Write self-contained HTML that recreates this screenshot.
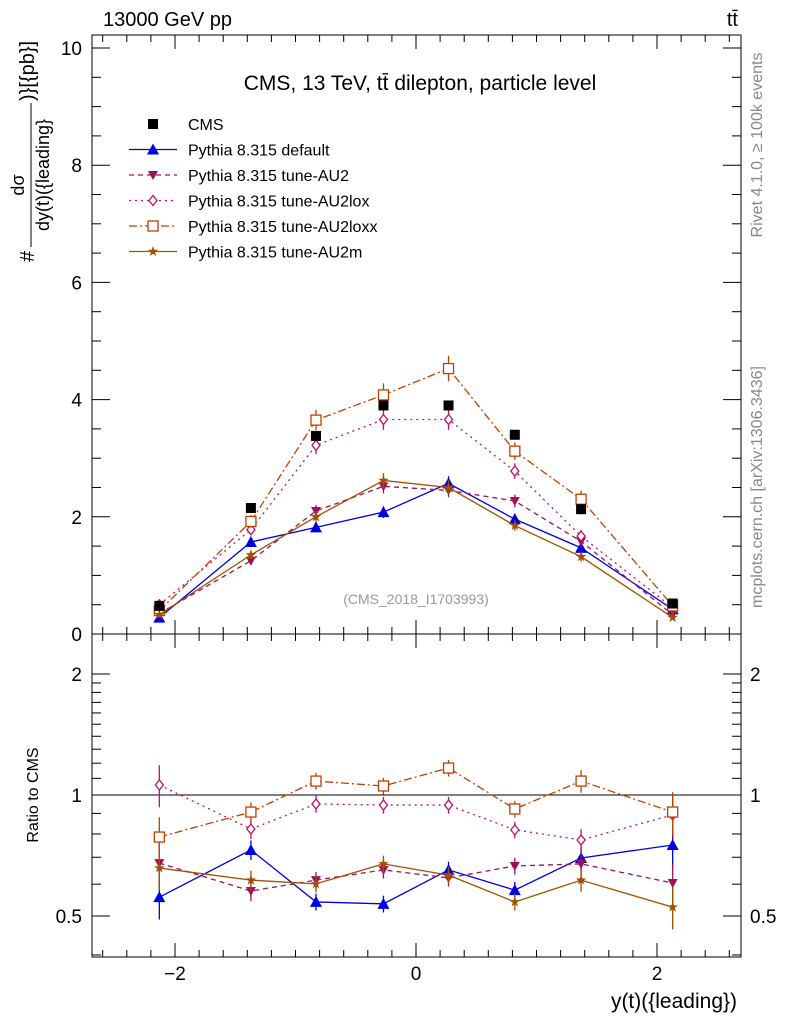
<!DOCTYPE html>
<html><head><meta charset="utf-8"><style>
body{margin:0;background:#fff;}
svg text{font-family:"Liberation Sans",sans-serif;}
</style></head><body>
<svg id="c" width="786" height="1024" xmlns="http://www.w3.org/2000/svg"></svg>
<script>
const xs=[-2.13,-1.37,-0.83,-0.27,0.27,0.82,1.37,2.13];
const cmsVals=[0.48,2.15,3.38,3.9,3.9,3.4,2.13,0.52];
const defVals=[0.28,1.57,1.82,2.08,2.57,1.96,1.47,0.42];
const au2Vals=[0.35,1.25,2.1,2.52,2.45,2.27,1.58,0.33];
const loxVals=[0.5,1.78,3.22,3.66,3.66,2.78,1.67,0.45];
const loxxVals=[0.4,1.92,3.65,4.08,4.53,3.12,2.3,0.48];
const au2mVals=[0.33,1.35,2.0,2.62,2.5,1.85,1.32,0.28];
const defRatio=[0.557,0.73,0.542,0.536,0.651,0.58,0.697,0.751];
const au2Ratio=[0.677,0.577,0.614,0.651,0.622,0.666,0.674,0.604];
const loxRatio=[1.059,0.823,0.95,0.944,0.944,0.819,0.773,0.892];
const loxxRatio=[0.786,0.907,1.083,1.053,1.167,0.923,1.083,0.907];
const au2mRatio=[0.658,0.614,0.601,0.674,0.632,0.542,0.614,0.526];
const relErr=[0.15,0.07,0.06,0.06,0.06,0.06,0.08,0.15];
const xTicks=[-2,0,2];
const yTicks=[0,2,4,6,8,10];
const rTicks=[0.5,1,2];

const svg=document.getElementById('c');
const NS='http://www.w3.org/2000/svg';
const L=92,R=741,T=35,MB=634,RB=957;
const X=v=>416+v*120.5;
const Y=v=>634-v*58.6;
const YR=v=>795-Math.log10(v)*402;
function el(t,a,p){const e=document.createElementNS(NS,t);for(const k in a)e.setAttribute(k,a[k]);(p||svg).appendChild(e);return e;}
function txt(s,a){const e=el('text',a);e.textContent=s;return e;}

let e;
e=el('rect',{x:L,y:T,width:R-L,height:MB-T,fill:'none',stroke:'#000','stroke-width':1});

e=el('rect',{x:L,y:MB,width:R-L,height:RB-MB,fill:'none',stroke:'#000','stroke-width':1});


for(let v=-2.6;v<=2.61;v+=0.2){const vv=Math.round(v*10)/10;const maj=Math.abs(vv%2)<1e-6;const len=maj?14:7;const px=X(vv);
 [[MB,-1],[T,1],[RB,-1],[MB,1]].forEach(([y0,d])=>el('line',{x1:px,x2:px,y1:y0,y2:y0+d*len,stroke:'#000'}));}
xTicks.forEach(v=>{e=txt(v<0?'\u2212'+(-v):''+v,{x:X(v),y:980,'font-size':19,'text-anchor':'middle'});});
for(let v=0;v<=10.01;v+=0.5){const maj=Math.abs(v%2)<1e-6;const len=maj?18:9;const py=Y(v);
 el('line',{x1:L,x2:L+len,y1:py,y2:py,stroke:'#000'});el('line',{x1:R,x2:R-len,y1:py,y2:py,stroke:'#000'});}
yTicks.forEach(v=>{e=txt(''+v,{x:82,y:Y(v)+7,'font-size':19,'text-anchor':'end'});});
const rminor=[0.4,0.5,0.6,0.7,0.8,0.9,1,2];
rminor.forEach(v=>{const maj=rTicks.includes(v);const len=maj?18:9;const py=YR(v);
 el('line',{x1:L,x2:L+len,y1:py,y2:py,stroke:'#000'});el('line',{x1:R,x2:R-len,y1:py,y2:py,stroke:'#000'});});
for(let v=1.1;v<2;v+=0.1){const py=YR(v);el('line',{x1:L,x2:L+9,y1:py,y2:py,stroke:'#000'});el('line',{x1:R,x2:R-9,y1:py,y2:py,stroke:'#000'});}
rTicks.forEach(v=>{e=txt(''+v,{x:82,y:YR(v)+7,'font-size':19,'text-anchor':'end'});
 e=txt(''+v,{x:750,y:YR(v)+7,'font-size':19});});
el('line',{x1:L,x2:R,y1:YR(1),y2:YR(1),stroke:'#000'});

function marker(kind,px,py,col,g){
 if(kind==='sq')el('rect',{x:px-5,y:py-5,width:10,height:10,fill:'#000'},g);
 else if(kind==='tri')el('polygon',{points:`${px},${py-6} ${px-6},${py+5} ${px+6},${py+5}`,fill:col},g);
 else if(kind==='itri')el('polygon',{points:`${px},${py+5} ${px-5},${py-4} ${px+5},${py-4}`,fill:col},g);
 else if(kind==='dia')el('polygon',{points:`${px},${py-5} ${px-4},${py} ${px},${py+5} ${px+4},${py}`,fill:'#fff',stroke:col,'stroke-width':1.3},g);
 else if(kind==='osq')el('rect',{x:px-5,y:py-5,width:10,height:10,fill:'#fff',stroke:col,'stroke-width':1.3},g);
 else if(kind==='star'){let p=[];for(let i=0;i<10;i++){const r=i%2?2.2:5.5,a=-Math.PI/2+i*Math.PI/5;p.push((px+r*Math.cos(a))+','+(py+r*Math.sin(a)));}el('polygon',{points:p.join(' '),fill:col},g);}
}
const series=[
 {name:'default',vals:defVals,ratio:defRatio,col:'#0000e6',dash:'',m:'tri'},
 {name:'au2',vals:au2Vals,ratio:au2Ratio,col:'#a0105a',dash:'5,4',m:'itri'},
 {name:'au2lox',vals:loxVals,ratio:loxRatio,col:'#c0106a',dash:'2,4',m:'dia'},
 {name:'au2loxx',vals:loxxVals,ratio:loxxRatio,col:'#c04000',dash:'8,3,2,3',m:'osq'},
 {name:'au2m',vals:au2mVals,ratio:au2mRatio,col:'#a05000',dash:'',m:'star'}];
series.forEach(s=>{
 [[s.vals,Y,'main'],[s.ratio,YR,'ratio']].forEach(([arr,f,pn])=>{
  const g=el('g',{});
  el('polyline',{points:arr.map((v,i)=>X(xs[i])+','+f(v)).join(' '),fill:'none',stroke:s.col,'stroke-width':1.3,'stroke-dasharray':s.dash},g);
  arr.forEach((v,i)=>{const px=X(xs[i]);const er=v*relErr[i]*0.8;
   el('line',{x1:px,x2:px,y1:f(v+er),y2:f(Math.max(v-er,0.01)),stroke:s.col,'stroke-width':1.3},g);
   marker(s.m,px,f(v),s.col,g);});
 });
});
const cg=el('g',{});
cmsVals.forEach((v,i)=>marker('sq',X(xs[i]),Y(v),'#000',cg));

const leg=[['CMS','#000','','sq'],...series.map(s=>[null,s.col,s.dash,s.m])];
const names=['CMS','Pythia 8.315 default','Pythia 8.315 tune-AU2','Pythia 8.315 tune-AU2lox','Pythia 8.315 tune-AU2loxx','Pythia 8.315 tune-AU2m'];
leg.forEach((l,i)=>{const y=124+i*25.5;const g=el('g',{});
 if(i>0)el('line',{x1:129,x2:177,y1:y,y2:y,stroke:l[1],'stroke-width':1.3,'stroke-dasharray':l[2]},g);
 marker(l[3],153,y,l[1],g);
 const t=el('text',{x:188,y:y+6,'font-size':16},g);t.textContent=names[i];});

e=txt('CMS, 13 TeV, tt\u0304 dilepton, particle level',{x:420,y:90,'font-size':21,'text-anchor':'middle'});
e=txt('13000 GeV pp',{x:103,y:26,'font-size':20});
e=txt('tt\u0304',{x:738,y:26,'font-size':20,'text-anchor':'end'});
e=txt('(CMS_2018_I1703993)',{x:416,y:604,'font-size':14,'text-anchor':'middle',fill:'#999'});
e=txt('y(t)({leading})',{x:737,y:1008,'font-size':21,'text-anchor':'end'});
e=txt('Ratio to CMS',{x:0,y:0,'font-size':16,'text-anchor':'middle',transform:'translate(38,795) rotate(-90)'});
e=txt('Rivet 4.1.0, \u2265 100k events',{x:0,y:0,'font-size':16,'text-anchor':'middle',fill:'#888',transform:'translate(762,145) rotate(-90)'});
e=txt('mcplots.cern.ch [arXiv:1306.3436]',{x:0,y:0,'font-size':16,'text-anchor':'middle',fill:'#888',transform:'translate(762,487) rotate(-90)'});
const yg=el('g',{transform:'translate(30,150) rotate(-90)'});
let t=el('text',{x:-112,y:4,'font-size':20,'text-anchor':'start'},yg);t.textContent='#';
t=el('text',{x:-35,y:-6,'font-size':18,'text-anchor':'middle'},yg);t.textContent='d\u03c3';
el('line',{x1:-97,x2:47,y1:1,y2:1,stroke:'#000'},yg);
t=el('text',{x:-25,y:19,'font-size':18,'text-anchor':'middle'},yg);t.textContent='dy(t)({leading}';
t=el('text',{x:49,y:4,'font-size':20,'text-anchor':'start'},yg);t.textContent=')}[{pb}]';
</script>
</body></html>
